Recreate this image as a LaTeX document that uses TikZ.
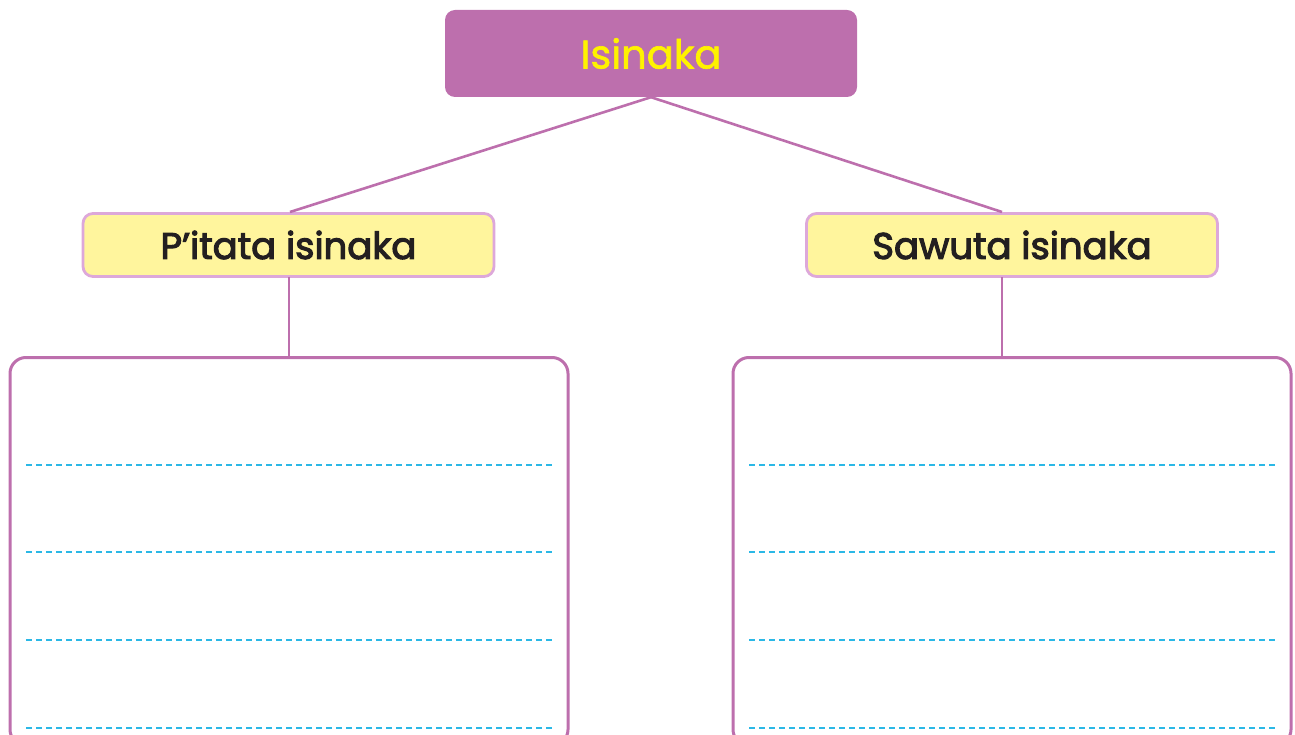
\documentclass[tikz,border=0pt]{standalone}
\usepackage{fontspec}
\setmainfont{Poppins}
\newfontfamily\semifont[FakeBold=1.6]{Poppins}
\newfontfamily\thickfont[FakeBold=3]{Poppins}
\usepackage{tikz}
\definecolor{plum}{HTML}{BD6FAD}
\definecolor{lightplum}{HTML}{DDA8DA}
\definecolor{paleyellow}{HTML}{FFF59D}
\definecolor{headyellow}{HTML}{FFF200}
\definecolor{lineblue}{HTML}{2BB8E6}
\definecolor{inkblack}{HTML}{231F20}
\tikzset{
    topbox/.style={draw=none, fill=plum, rounded corners=10pt, text=headyellow,
        font=\semifont\fontsize{40}{42}\selectfont, minimum width=412pt, minimum height=87pt},
    subbox/.style={draw=lightplum, line width=2.8pt, fill=paleyellow, rounded corners=10pt,
        text=inkblack, font=\thickfont\fontsize{37}{39}\selectfont,
        minimum width=411pt, minimum height=63pt},
    bigbox/.style={draw=plum, line width=3pt, rounded corners=16pt,
        minimum width=558pt, minimum height=388pt, anchor=north},
    link/.style={draw=plum, line width=2.6pt},
    dashline/.style={lineblue, line width=1.4pt, dash pattern=on 6pt off 4pt}
}
\begin{document}
\begin{tikzpicture}[x=1pt, y=-1pt]
    % Canvas
    \useasboundingbox (0,0) rectangle (1295,735);

    % Heading
    \node[topbox] (isinaka) at (651,53.5) {Isinaka};

    % Two branches
    \node[subbox] (pitata) at (288.5,245) {P’itata isinaka};
    \node[subbox] (sawuta) at (1012,245) {Sawuta isinaka};
    \coordinate (pitataTop) at (290,212);
    \coordinate (sawutaTop) at (1002,212);
    \coordinate (pitataBot) at (289,277);
    \coordinate (sawutaBot) at (1002,277);

    % Writing boxes
    \node[bigbox] (leftbox) at (289,356) {};
    \node[bigbox] (rightbox) at (1012,356) {};

    % Connectors
    \draw[link] (isinaka.south) -- (pitataTop);
    \draw[link] (isinaka.south) -- (sawutaTop);
    \draw[link] (pitataBot) -- (pitataBot |- leftbox.north);
    \draw[link] (sawutaBot) -- (sawutaBot |- rightbox.north);

    % Dotted writing lines
    \foreach \y in {465,552,640,728} {
        \draw[dashline] (26,\y) -- (553,\y);
        \draw[dashline] (749,\y) -- (1276,\y);
    }
\end{tikzpicture}
\end{document}
